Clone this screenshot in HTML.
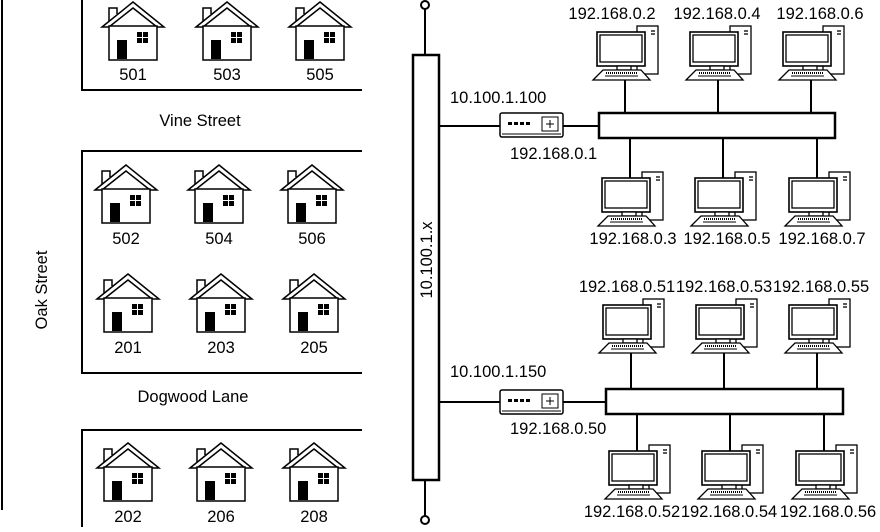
<!DOCTYPE html>
<html><head><meta charset="utf-8"><style>
body{margin:0;background:#fff}
svg text{font-family:"Liberation Sans",sans-serif;font-size:16.5px;fill:#000}
</style></head><body>
<svg width="880" height="527" viewBox="0 0 880 527" xmlns="http://www.w3.org/2000/svg">
<defs>
<g id="house" stroke="#000" stroke-width="1.5" fill="#fff">
<path d="M-24 19 L-24 6 L-16 6 L-16 12"/>
<path d="M-31 25 L0 0 L31 25 L24 25 L0 6 L-24 25 Z"/>
<rect x="-24" y="24" width="48" height="34"/>
<rect x="-16" y="38" width="10" height="19" fill="#000" stroke="none"/>
<g fill="#000" stroke="none"><rect x="4" y="30" width="5" height="5"/><rect x="10" y="30" width="5" height="5"/><rect x="4" y="36" width="5" height="5"/><rect x="10" y="36" width="5" height="5"/></g>
</g>
<g id="pc" stroke="#000" fill="#fff" stroke-width="1.3">
<rect x="12" y="-6" width="21" height="48"/>
<line x1="26" y1="-1" x2="30" y2="-1"/><line x1="26" y1="2" x2="30" y2="2"/>
<rect x="-28" y="0" width="48" height="34" stroke-width="1.6"/>
<rect x="-25" y="3" width="42" height="27"/>
<rect x="-8" y="34" width="14" height="4"/>
<path d="M-22 38 L16 38 L25 48 L-32 48 Z"/>
<line x1="-19" y1="41" x2="12" y2="41" stroke-dasharray="1 1" stroke-width="2"/>
<line x1="-20" y1="44" x2="13" y2="44" stroke-width="1"/>
</g>
<g id="router" stroke="#000" fill="#fff" stroke-width="1.5">
<rect x="0" y="0" width="63" height="24" rx="2"/>
<line x1="2" y1="21" x2="61" y2="21" stroke-width="1"/>
<g stroke="none" fill="#000"><rect x="8" y="9" width="4" height="3"/><rect x="14" y="9" width="4" height="3"/><rect x="20" y="9" width="4" height="3"/><rect x="26" y="9" width="4" height="3"/></g>
<rect x="42" y="4" width="16" height="14" stroke-width="1"/>
<path d="M46 11h8M50 7v8" stroke-width="1"/>
</g>
</defs>

<line x1="2" y1="0" x2="2" y2="510" stroke="#000" stroke-width="2"/>
<text x="47" y="290" transform="rotate(-90 47 290)" text-anchor="middle">Oak Street</text>

<path d="M82 0V90H362" fill="none" stroke="#000" stroke-width="2"/>
<path d="M362 151H82V373H362" fill="none" stroke="#000" stroke-width="2"/>
<path d="M362 430H82V527" fill="none" stroke="#000" stroke-width="2"/>
<text x="200" y="126" text-anchor="middle">Vine Street</text>
<text x="193" y="402" text-anchor="middle">Dogwood Lane</text>

<use href="#house" x="133" y="2"/><use href="#house" x="227" y="2"/><use href="#house" x="320" y="2"/>
<text x="133" y="80" text-anchor="middle">501</text><text x="227" y="80" text-anchor="middle">503</text><text x="320" y="80" text-anchor="middle">505</text>
<use href="#house" x="126" y="165"/><use href="#house" x="219" y="165"/><use href="#house" x="312" y="165"/>
<text x="126" y="244" text-anchor="middle">502</text><text x="219" y="244" text-anchor="middle">504</text><text x="312" y="244" text-anchor="middle">506</text>
<use href="#house" x="128" y="274"/><use href="#house" x="221" y="274"/><use href="#house" x="314" y="274"/>
<text x="128" y="353" text-anchor="middle">201</text><text x="221" y="353" text-anchor="middle">203</text><text x="314" y="353" text-anchor="middle">205</text>
<use href="#house" x="128" y="443"/><use href="#house" x="221" y="443"/><use href="#house" x="314" y="443"/>
<text x="128" y="522" text-anchor="middle">202</text><text x="221" y="522" text-anchor="middle">206</text><text x="314" y="522" text-anchor="middle">208</text>

<line x1="425" y1="9" x2="425" y2="55" stroke="#000" stroke-width="2"/>
<line x1="425" y1="480" x2="425" y2="516" stroke="#000" stroke-width="2"/>
<circle cx="425" cy="5" r="4" fill="#fff" stroke="#000" stroke-width="2"/>
<circle cx="425" cy="520" r="4" fill="#fff" stroke="#000" stroke-width="2"/>
<rect x="413" y="55" width="26" height="425" fill="#fff" stroke="#000" stroke-width="2.5"/>
<text x="432" y="260" transform="rotate(-90 432 260)" text-anchor="middle">10.100.1.x</text>

<line x1="440" y1="126" x2="600" y2="126" stroke="#000" stroke-width="2"/>
<use href="#router" x="500" y="113"/>
<text x="450" y="103">10.100.1.100</text>
<text x="510" y="159">192.168.0.1</text>
<g stroke="#000" stroke-width="2">
<line x1="625" y1="80" x2="625" y2="113"/><line x1="718" y1="80" x2="718" y2="113"/><line x1="811" y1="80" x2="811" y2="113"/>
<line x1="630" y1="138" x2="630" y2="178"/><line x1="723" y1="138" x2="723" y2="178"/><line x1="817" y1="138" x2="817" y2="178"/>
</g>
<rect x="599" y="113" width="236" height="25" fill="#fff" stroke="#000" stroke-width="2.5"/>
<use href="#pc" x="625" y="32"/><use href="#pc" x="718" y="32"/><use href="#pc" x="811" y="32"/>
<use href="#pc" x="630" y="178"/><use href="#pc" x="723" y="178"/><use href="#pc" x="817" y="178"/>
<text x="612" y="19" text-anchor="middle">192.168.0.2</text><text x="717" y="19" text-anchor="middle">192.168.0.4</text><text x="820" y="19" text-anchor="middle">192.168.0.6</text>
<text x="633" y="244" text-anchor="middle">192.168.0.3</text><text x="727" y="244" text-anchor="middle">192.168.0.5</text><text x="822" y="244" text-anchor="middle">192.168.0.7</text>

<line x1="440" y1="402" x2="608" y2="402" stroke="#000" stroke-width="2"/>
<use href="#router" x="500" y="390"/>
<text x="450" y="377">10.100.1.150</text>
<text x="510" y="434">192.168.0.50</text>
<g stroke="#000" stroke-width="2">
<line x1="631" y1="352" x2="631" y2="389"/><line x1="724" y1="352" x2="724" y2="389"/><line x1="817" y1="352" x2="817" y2="389"/>
<line x1="637" y1="414" x2="637" y2="451"/><line x1="730" y1="414" x2="730" y2="451"/><line x1="824" y1="414" x2="824" y2="451"/>
</g>
<rect x="606" y="389" width="237" height="25" fill="#fff" stroke="#000" stroke-width="2.5"/>
<use href="#pc" x="631" y="305"/><use href="#pc" x="724" y="305"/><use href="#pc" x="817" y="305"/>
<use href="#pc" x="637" y="451"/><use href="#pc" x="730" y="451"/><use href="#pc" x="824" y="451"/>
<text x="627" y="292" text-anchor="middle">192.168.0.51</text><text x="724" y="292" text-anchor="middle">192.168.0.53</text><text x="821" y="292" text-anchor="middle">192.168.0.55</text>
<text x="632" y="517" text-anchor="middle">192.168.0.52</text><text x="729" y="517" text-anchor="middle">192.168.0.54</text><text x="828" y="517" text-anchor="middle">192.168.0.56</text>
</svg>
</body></html>
